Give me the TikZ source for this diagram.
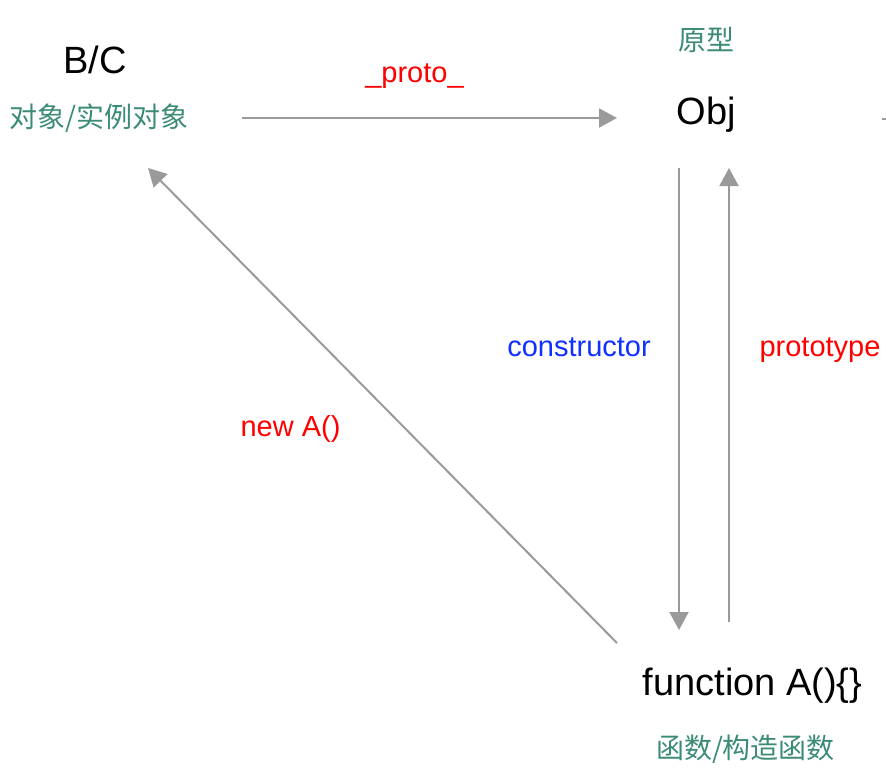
\documentclass[tikz,border=0pt]{standalone}
\usepackage{fontspec}
\setmainfont{Liberation Sans}
\newfontfamily\cjk{Noto Sans CJK SC}
\usetikzlibrary{arrows.meta}
\definecolor{Leaf}{HTML}{3B8B76}
\definecolor{Wire}{HTML}{9A9A9A}
\definecolor{Key}{HTML}{FF0000}
\definecolor{Ctor}{HTML}{1030FF}

\tikzset{
  blk/.style={inner sep=0pt,anchor=base,font=\fontsize{38}{40}\selectfont},
  lbl/.style={inner sep=0pt,anchor=base,font=\fontsize{29}{32}\selectfont},
  cn/.style={inner sep=0pt,color=Leaf,font=\cjk\fontsize{28}{30}\selectfont},
  wire/.style={draw=Wire,line width=2pt},
  link/.style={wire,-{Triangle[length=18pt,width=19pt]},color=Wire}
}

\begin{document}
\begin{tikzpicture}[x=1pt,y=-1pt]
    \useasboundingbox (0,0) rectangle (886,782);
    % object side
    \node[blk] (bc) at (95,73) {B/C};
    \node[cn] (bcname) at (99,118) {对象/实例对象};
    % prototype side
    \node[cn] (protoname) at (706,40) {原型};
    \node[blk] (obj) at (706,124) {Obj};
    % constructor side
    \node[blk] (fn) at (752.5,695) {function A()\{\}};
    \node[cn] (fnname) at (745.5,749) {函数/构造函数};
    % arrow labels
    \node[lbl,color=Key] (protolbl) at (414.5,82) {\_proto\_};
    \node[lbl,color=Ctor] (ctorlbl) at (579,356) {constructor};
    \node[lbl,color=Key] (typelbl) at (820,356) {prototype};
    \node[lbl,color=Key] (newlbl) at (290.5,436) {new A()};
    % arrow ends
    \coordinate (protoS) at (242,118);  \coordinate (protoE) at (617,118);
    \coordinate (ctorS) at (679,168);   \coordinate (ctorE) at (679,630);
    \coordinate (typeS) at (729,622);   \coordinate (typeE) at (729,168);
    \coordinate (newS) at (617,643);    \coordinate (newE) at (148,168);
    \coordinate (tickS) at (882,119);   \coordinate (tickE) at (886,119);
    \draw[link] (protoS) -- (protoE);
    \draw[link] (ctorS) -- (ctorE);
    \draw[link] (typeS) -- (typeE);
    \draw[link] (newS) -- (newE);
    \draw[wire] (tickS) -- (tickE);
\end{tikzpicture}
\end{document}
